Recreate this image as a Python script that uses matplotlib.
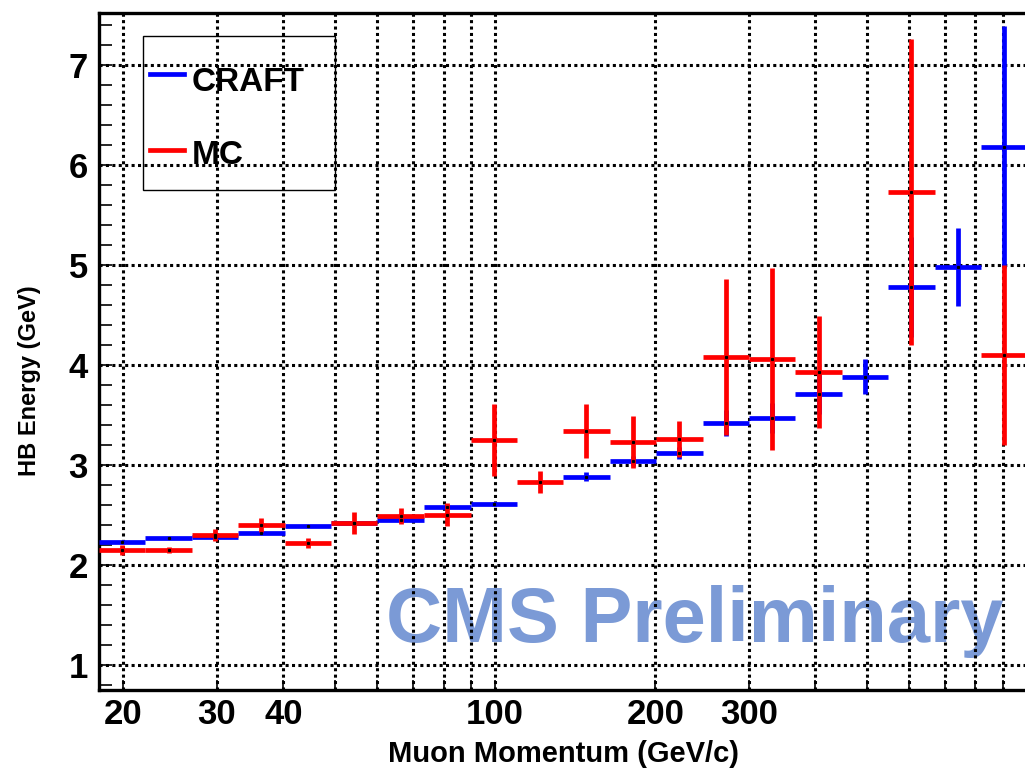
import matplotlib.pyplot as plt
import numpy as np
from matplotlib.ticker import NullFormatter, MultipleLocator
from matplotlib.patches import Rectangle
from matplotlib.lines import Line2D

plt.rcParams['font.family'] = ['Liberation Sans', 'DejaVu Sans']
plt.rcParams['font.weight'] = 'bold'

# bin edges of the histograms (GeV/c)
edges = [18.0, 22.0, 26.9, 32.9, 40.2, 49.2, 60.1, 73.5, 89.9, 109.9, 134.3,
         164.2, 200.8, 245.5, 300.1, 366.9, 448.6, 548.5, 670.6, 819.8, 1000.0]

# CRAFT data
craft = [2.23, 2.265, 2.28, 2.32, 2.385, 2.42, 2.45, 2.58, 2.61, np.nan,
         2.88, 3.04, 3.12, 3.42, 3.47, 3.71, 3.88, 4.78, 4.98, 6.18]
craft_err = [0.01, 0.01, 0.01, 0.01, 0.01, 0.01, 0.01, 0.015, 0.02, np.nan,
             0.045, 0.05, 0.06, 0.13, 0.15, 0.2, 0.175, 0.5, 0.39, 1.21]

# MC
mc = [2.15, 2.15, 2.30, 2.40, 2.22, 2.42, 2.49, 2.50, 3.25, 2.83,
      3.34, 3.23, 3.26, 4.08, 4.06, 3.93, np.nan, 5.73, np.nan, 4.10]
mc_err = [0.05, 0.03, 0.06, 0.07, 0.05, 0.11, 0.08, 0.115, 0.36, 0.11,
          0.27, 0.26, 0.18, 0.78, 0.91, 0.56, np.nan, 1.53, np.nan, 0.90]

xticks = [20, 30, 40, 100, 200, 300]
xminor = [50, 60, 70, 80, 90, 400, 500, 600, 700, 800, 900]

W, H = 1025, 768
def fx(px):
    return px / W
def fy(py):
    return 1 - py / H

fig = plt.figure(figsize=(10.25, 7.68), dpi=100)
ax = fig.add_axes([fx(99), fy(690), 928 / W, 677.3 / H])
ax.set_xscale('log')
ax.set_xlim(18, 1000)
ax.set_ylim(0.75, 7.52)
ax.set_axisbelow(True)

lo = np.array(edges[:-1])
hi = np.array(edges[1:])
xc = np.sqrt(lo * hi)

def draw(vals, errs, color):
    v = np.array(vals)
    e = np.array(errs)
    ok = ~np.isnan(v)
    ax.errorbar(xc[ok], v[ok], xerr=[xc[ok] - lo[ok], hi[ok] - xc[ok]], yerr=e[ok],
                fmt='none', ecolor=color, elinewidth=3.4, capsize=0, zorder=3)
    ax.plot(xc[ok], v[ok], 's', color='black', ms=1.3, zorder=4)

draw(craft, craft_err, '#0000ff')
draw(mc, mc_err, '#ff0000')

ax.set_xticks(xticks, labels=[str(t) for t in xticks])
ax.set_xticks(xminor, minor=True)
ax.xaxis.set_minor_formatter(NullFormatter())
ax.set_yticks(range(1, 8))
ax.yaxis.set_minor_locator(MultipleLocator(0.2))

grid_style = dict(color='black', ls=(0, (1.0, 1.1)), lw=2.2)
ax.xaxis.grid(True, which='both', **grid_style)
ax.yaxis.grid(True, which='major', **grid_style)

ax.tick_params(which='both', direction='in', width=1.2, labelsize=25)
ax.tick_params(axis='y', which='both', length=9, pad=8)
ax.tick_params(axis='x', which='both', length=7, pad=6)
for s in ['left', 'bottom', 'top']:
    ax.spines[s].set_linewidth(2.4)

# axis titles
fig.text(fx(563), fy(762), 'Muon Momentum (GeV/c)', fontsize=21, ha='center', va='baseline')
fig.text(fx(30), fy(381), 'HB Energy (GeV)', fontsize=17, rotation=90, ha='center', va='center')

# watermark, behind the grid
ax.text(fx(386), fy(642), 'CMS Preliminary', transform=fig.transFigure, color='#7b9ad6',
        fontsize=56, ha='left', va='baseline', zorder=0.1)

# legend box
fig.add_artist(Rectangle((fx(143), fy(190)), 192 / W, 154 / H, transform=fig.transFigure,
                         fill=False, ec='black', lw=1.0))
fig.add_artist(Line2D([fx(150), fx(184)], [fy(74.3)] * 2, color='#0000ff', lw=3.4))
fig.add_artist(Line2D([fx(150), fx(184)], [fy(150)] * 2, color='#ff0000', lw=3.4))
fig.text(fx(192), fy(91), 'CRAFT', fontsize=24, ha='left', va='baseline')
fig.text(fx(192), fy(164), 'MC', fontsize=24, ha='left', va='baseline')

fig.savefig('out.png', dpi=100)
